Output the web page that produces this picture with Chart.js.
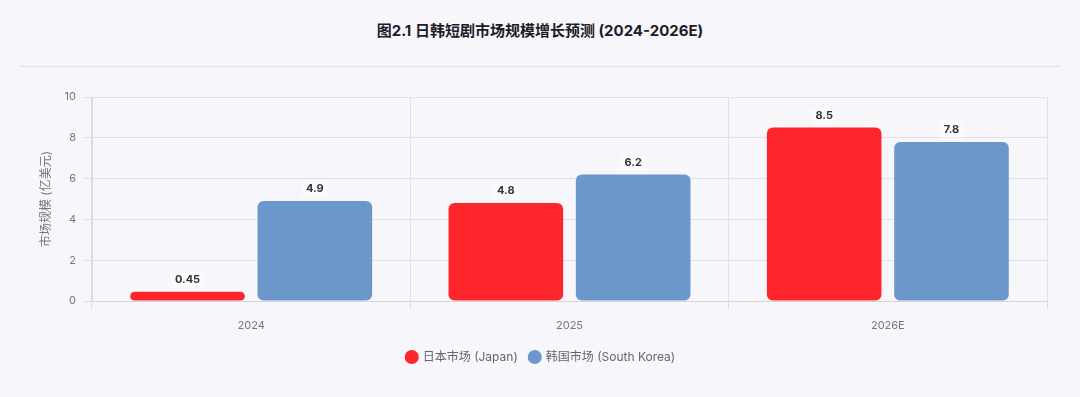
<!DOCTYPE html>
<html lang="zh">
<head>
<meta charset="utf-8">
<script src="https://cdn.jsdelivr.net/npm/chart.js@4"></script>
<style>
  html, body { margin: 0; padding: 0; }
  body {
    width: 1080px; height: 397px; overflow: hidden;
    background: #f6f6fb;
    font-family: "Inter", "Noto Sans CJK SC", sans-serif;
    position: relative;
  }
  .head {
    position: absolute; left: 20px; top: 0; width: 1040px; height: 66px;
    border-bottom: 1px solid #e2e2ea;
    text-align: center; line-height: 62px;
    font-size: 15px; font-weight: 700; color: #1c1c28;
  }
  .wrap { position: absolute; left: 0; top: 70px; width: 1080px; height: 327px; }
</style>
</head>
<body>
<div class="head">图2.1 日韩短剧市场规模增长预测 (2024-2026E)</div>
<div class="wrap"><canvas id="marketChart"></canvas></div>
<script>
// data
const categories = ['2024', '2025', '2026E'];
const japanValues = [0.45, 4.8, 8.5];
const koreaValues = [4.9, 6.2, 7.8];
const yTicks = [0, 2, 4, 6, 8, 10];

// draws the value above each bar
const valueLabels = {
  id: 'valueLabels',
  afterDatasetsDraw(chart) {
    const ctx = chart.ctx;
    ctx.save();
    ctx.font = '700 11px Inter, "Noto Sans CJK SC", sans-serif';
    ctx.textAlign = 'center';
    ctx.textBaseline = 'middle';
    chart.data.datasets.forEach((ds, i) => {
      chart.getDatasetMeta(i).data.forEach((bar, j) => {
        const txt = String(ds.data[j]);
        const w = ctx.measureText(txt).width + 8;
        ctx.fillStyle = 'rgba(255,255,255,0.55)';
        ctx.fillRect(bar.x - w / 2, bar.y - 19, w, 15);
        ctx.fillStyle = '#333';
        ctx.fillText(txt, bar.x, bar.y - 12);
      });
    });
    ctx.restore();
  }
};

document.addEventListener('DOMContentLoaded', function () {
  const ctx = document.getElementById('marketChart').getContext('2d');
  Chart.defaults.font.family = 'Inter, "Noto Sans CJK SC", sans-serif';

  new Chart(ctx, {
    type: 'bar',
    data: {
      labels: categories,
      datasets: [
        {
          label: '日本市场 (Japan)',
          data: japanValues,
          backgroundColor: '#ff262b',
          borderRadius: 6,
          borderSkipped: false
        },
        {
          label: '韩国市场 (South Korea)',
          data: koreaValues,
          backgroundColor: '#6c97cb',
          borderRadius: 6,
          borderSkipped: false
        }
      ]
    },
    options: {
      responsive: true,
      maintainAspectRatio: false,
      animation: false,
      layout: { padding: { left: 35, right: 33, top: 27, bottom: 24 } },
      plugins: {
        legend: {
          position: 'bottom',
          labels: {
            usePointStyle: true,
            pointStyle: 'circle',
            boxWidth: 10,
            boxHeight: 10,
            padding: 12,
            color: '#666',
            font: { size: 12 }
          }
        },
        tooltip: { enabled: false }
      },
      scales: {
        x: {
          ticks: { color: '#777', font: { size: 11 }, padding: 10 },
          grid: { color: '#e0e0e8', tickLength: 8 },
          border: { color: '#d6d6de' },
          afterFit(scale) { scale.height = 38; }
        },
        y: {
          min: 0,
          max: 10,
          afterBuildTicks(scale) { scale.ticks = yTicks.map(v => ({ value: v })); },
          ticks: { color: '#777', font: { size: 11 }, padding: 8 },
          grid: { color: '#e0e0e8', tickLength: 8 },
          border: { color: '#d6d6de' },
          title: {
            display: true,
            text: '市场规模 (亿美元)',
            color: '#777',
            font: { size: 12 }
          },
          afterFit(scale) { scale.width = 57; }
        }
      }
    },
    plugins: [valueLabels]
  });
});
</script>
</body>
</html>
